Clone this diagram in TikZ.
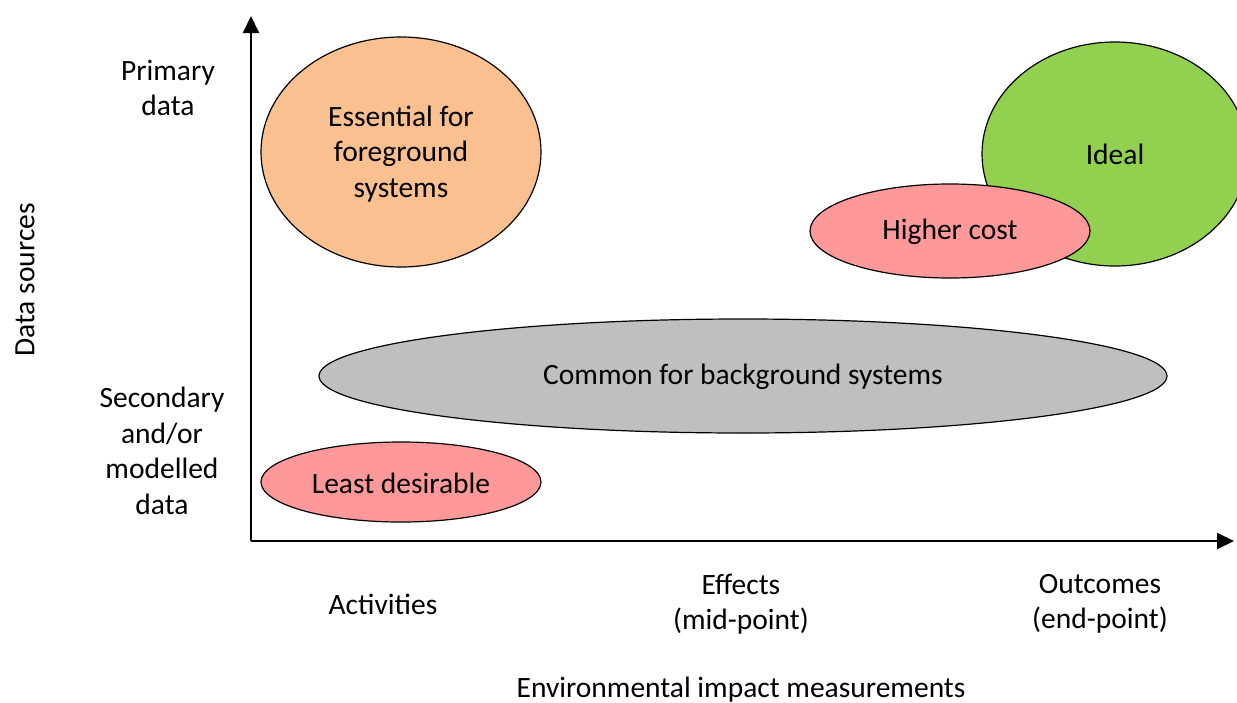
\documentclass[tikz,border=0pt]{standalone}
\usepackage{fontspec}
\setmainfont{Carlito}
\usetikzlibrary{arrows.meta}
\definecolor{orangefill}{HTML}{FAC090}
\definecolor{greenfill}{HTML}{92D050}
\definecolor{pinkfill}{HTML}{FF9999}
\definecolor{greyfill}{HTML}{BFBFBF}
\begin{document}
\begin{tikzpicture}[x=1pt,y=-1pt,
  blob/.style={draw=black,line width=1.2pt},
  lbl/.style={font=\fontsize{29.5}{35.5}\selectfont,align=center,inner sep=0pt},
  axis/.style={line width=2pt,-{Triangle[width=16pt,length=17pt]}}]
\useasboundingbox (0,0) rectangle (1237,702);
\begin{scope}
\clip (0,0) rectangle (1237,702);
\filldraw[blob,fill=greenfill] (1115,154) ellipse [x radius=133,y radius=112];
\end{scope}
\filldraw[blob,fill=orangefill] (401,152) ellipse [x radius=140,y radius=115];
\filldraw[blob,fill=pinkfill] (950,231) ellipse [x radius=140,y radius=47];
\filldraw[blob,fill=greyfill] (743,376) ellipse [x radius=424,y radius=57];
\filldraw[blob,fill=pinkfill] (401,482) ellipse [x radius=140,y radius=40];
\node[lbl] (ideal) at (1115,154) {Ideal};
\node[lbl] (ess) at (401,154) {Essential for\\foreground\\systems};
\node[lbl] (hc) at (950,232) {Higher cost};
\node[lbl] (common) at (743,377) {Common for background systems};
\node[lbl] (least) at (401,483) {Least desirable};
\coordinate (origin) at (251,541);
\coordinate (ytip) at (251,16);
\coordinate (xtip) at (1234,541);
\draw[axis] (origin) -- (ytip);
\draw[axis] (origin) -- (xtip);
\node[lbl] (prim) at (168,88) {Primary\\data};
\node[lbl] (sec) at (162,451) {Secondary\\and/or\\modelled\\data};
\node[lbl,rotate=90] (ds) at (25,280) {Data sources};
\node[lbl] (act) at (383,604) {Activities};
\node[lbl] (eff) at (741,604) {Effects\\(mid-point)};
\node[lbl] (out) at (1100,604) {Outcomes\\(end-point)};
\node[lbl] (env) at (741,690) {Environmental impact measurements};
\end{tikzpicture}
\end{document}
